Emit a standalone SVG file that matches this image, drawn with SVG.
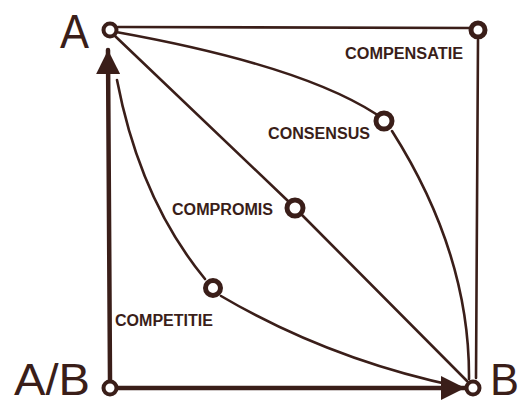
<svg xmlns="http://www.w3.org/2000/svg" width="525" height="405" viewBox="0 0 525 405">
<style>
.ln{fill:none;stroke:#3a1e19;stroke-width:2.6;stroke-linecap:round}
.ax{fill:none;stroke:#3a1e19;stroke-width:4.5;stroke-linecap:round}
.nd{fill:#fff;stroke:#3a1e19;stroke-width:4}
.nb{fill:#fff;stroke:#3a1e19;stroke-width:5}
.big{font-family:"Liberation Sans",Arial,sans-serif;font-size:48px;fill:#3a1e19}
.bb{font-family:"Liberation Sans",Arial,sans-serif;font-size:45px;fill:#3a1e19}
.lbl{font-family:"Liberation Sans",Arial,sans-serif;font-weight:bold;font-size:16px;fill:#3a1e19}
</style>
<defs>
<marker id="ah" viewBox="0 0 10 10" refX="10" refY="5" markerWidth="34" markerHeight="24" markerUnits="userSpaceOnUse" orient="auto">
<path d="M0,0 L10,5 L0,10 Z" fill="#3a1e19"/>
</marker>
</defs>
<rect width="525" height="405" fill="#fff"/>
<g id="connectors">
<path class="ln" d="M118,27 L472,28"/>
<path class="ln" d="M478,40 L476,378"/>
<path class="ln" d="M116,32 Q300,65 376,114"/>
<path class="ln" d="M392,131 Q470,254 469,379"/>
<path class="ln" d="M115,36 L288,201"/>
<path class="ln" d="M302,215 L467,381"/>
<path class="ln" d="M117,80 Q140,200 205,279"/>
<path class="ln" d="M221,296 Q330,360 460,387"/>
<path class="ax" d="M110,380 L108,50" marker-end="url(#ah)"/>
<path class="ax" d="M118,388 L465,388" marker-end="url(#ah)"/>
</g>
<g id="node-A">
<circle class="nd" cx="110" cy="30" r="6.5"/>
<text class="big" x="60" y="48" textLength="29" lengthAdjust="spacingAndGlyphs">A</text>
</g>
<g id="node-compensatie">
<circle class="nb" cx="478" cy="30" r="7"/>
<text class="lbl" x="345" y="59" textLength="118" lengthAdjust="spacingAndGlyphs">COMPENSATIE</text>
</g>
<g id="node-consensus">
<circle class="nb" cx="384" cy="121" r="8"/>
<text class="lbl" x="268" y="139" textLength="102" lengthAdjust="spacingAndGlyphs">CONSENSUS</text>
</g>
<g id="node-compromis">
<circle class="nb" cx="295" cy="208" r="8"/>
<text class="lbl" x="172" y="215" textLength="101" lengthAdjust="spacingAndGlyphs">COMPROMIS</text>
</g>
<g id="node-competitie">
<circle class="nb" cx="213" cy="288" r="7.5"/>
<text class="lbl" x="115" y="326" textLength="98" lengthAdjust="spacingAndGlyphs">COMPETITIE</text>
</g>
<g id="node-AB">
<circle class="nd" cx="110" cy="388" r="6.5"/>
<text class="bb" x="14" y="395" textLength="76" lengthAdjust="spacingAndGlyphs">A/B</text>
</g>
<g id="node-B">
<circle class="nd" cx="473" cy="388" r="6.5"/>
<text class="bb" x="490" y="395" textLength="29" lengthAdjust="spacingAndGlyphs">B</text>
</g>
</svg>
